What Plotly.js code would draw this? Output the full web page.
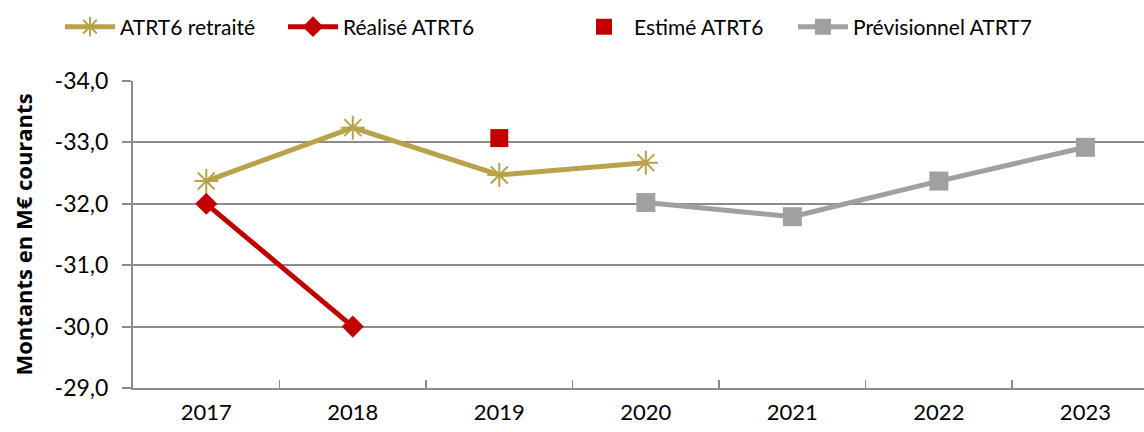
<!DOCTYPE html>
<html>
<head>
<meta charset="utf-8">
<script src="https://cdn.plot.ly/plotly-3.0.1.min.js"></script>
<style>
  html, body { margin: 0; padding: 0; background: #fff; }
  #chart { width: 1144px; height: 432px; }
</style>
</head>
<body>
<div id="chart"></div>
<script>
// Data (M€ courants)
const years = ['2017', '2018', '2019', '2020', '2021', '2022', '2023'];
const retraiteYears = ['2017', '2018', '2019', '2020'];
const retraiteValues = [-32.37, -33.24, -32.47, -32.67];
const realiseYears = ['2017', '2018'];
const realiseValues = [-32.0, -30.0];
const estimeYears = ['2019'];
const estimeValues = [-33.07];
const previsionnelYears = ['2020', '2021', '2022', '2023'];
const previsionnelValues = [-32.02, -31.79, -32.37, -32.92];
const yTickVals = [-34, -33, -32, -31, -30, -29];
const yTickText = ['-34,0', '-33,0', '-32,0', '-31,0', '-30,0', '-29,0'];

const gold = '#B8A24A';
const red = '#C00000';
const grey = '#A0A0A0';
const fontFamily = 'Lato, "Open Sans", sans-serif';

const traces = [
    {
        x: retraiteYears, y: retraiteValues,
        name: 'ATRT6 retraité',
        mode: 'lines+markers',
        line: { color: gold, width: 5 },
        marker: { symbol: 'asterisk-open', size: 20, line: { color: gold, width: 2 } },
        legend: 'legend'
    },
    {
        x: realiseYears, y: realiseValues,
        name: 'Réalisé ATRT6',
        mode: 'lines+markers',
        line: { color: red, width: 5 },
        marker: { symbol: 'diamond', size: 17, color: red },
        legend: 'legend2'
    },
    {
        x: estimeYears, y: estimeValues,
        name: 'Estimé ATRT6',
        mode: 'markers',
        marker: { symbol: 'square', size: 18, color: red },
        legend: 'legend3'
    },
    {
        x: previsionnelYears, y: previsionnelValues,
        name: 'Prévisionnel ATRT7',
        mode: 'lines+markers',
        line: { color: grey, width: 5 },
        marker: { symbol: 'square', size: 19, color: grey },
        legend: 'legend4'
    }
];

function legendAt(px) {
    return {
        x: px / 1144, xref: 'container', xanchor: 'left',
        y: 1 - 27 / 432, yref: 'container', yanchor: 'middle',
        orientation: 'h',
        itemwidth: 50,
        bgcolor: 'rgba(0,0,0,0)',
        font: { family: fontFamily, size: 21, color: '#000' }
    };
}

const layout = {
    width: 1144,
    height: 432,
    margin: { l: 133, r: 0, t: 81, b: 44 },
    paper_bgcolor: '#fff',
    plot_bgcolor: '#fff',
    font: { family: fontFamily, size: 21, color: '#000' },
    showlegend: true,
    legend: legendAt(60),
    legend2: legendAt(283),
    legend3: legendAt(574),
    legend4: legendAt(793),
    xaxis: {
        type: 'category',
        categoryarray: years,
        categoryorder: 'array',
        range: [-0.5, 6.4],
        showgrid: false,
        zeroline: false,
        showline: true,
        linecolor: '#8C8C8C',
        linewidth: 2,
        ticks: 'inside',
        tickson: 'boundaries',
        ticklen: 8,
        tickwidth: 1.5,
        tickcolor: '#8C8C8C',
        tickfont: { family: fontFamily, size: 22, color: '#000' },
        ticklabelstandoff: 4,
        fixedrange: true
    },
    yaxis: {
        range: [-29, -34],
        tickvals: yTickVals,
        ticktext: yTickText,
        showgrid: true,
        gridcolor: '#8C8C8C',
        gridwidth: 2,
        zeroline: false,
        showline: true,
        linecolor: '#8C8C8C',
        linewidth: 2,
        ticks: 'outside',
        ticklen: 9,
        tickwidth: 2,
        tickcolor: '#8C8C8C',
        tickfont: { family: fontFamily, size: 23, color: '#000' },
        ticklabelstandoff: 9,
        title: {
            text: '<b>Montants en M€ courants</b>',
            font: { family: '"Open Sans", "Noto Sans", sans-serif', size: 22, color: '#000' },
            standoff: 16
        },
        fixedrange: true
    }
};

Plotly.newPlot('chart', traces, layout, { staticPlot: true });
</script>
</body>
</html>
